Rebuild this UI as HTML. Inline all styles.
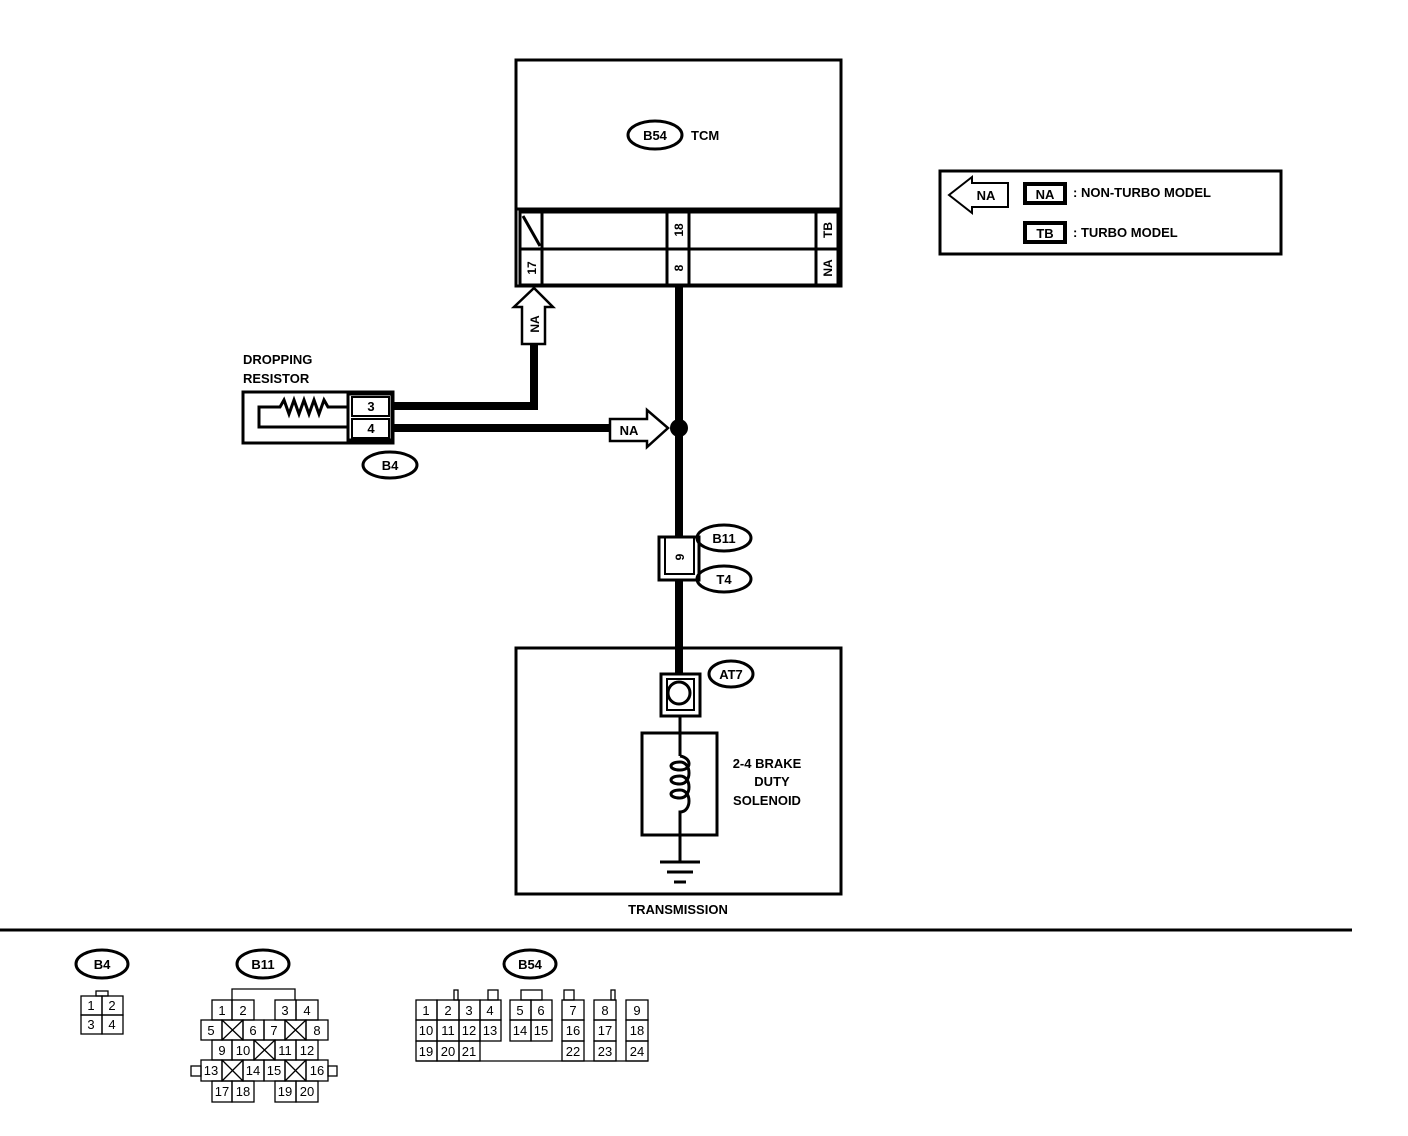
<!DOCTYPE html>
<html><head><meta charset="utf-8"><style>
html,body{margin:0;padding:0;background:#fff;}
svg{display:block;}
text{font-family:"Liberation Sans",Arial,sans-serif;font-weight:bold;fill:#000;}
text.n{font-weight:normal;}
</style></head><body>
<svg width="1408" height="1136" viewBox="0 0 1408 1136" xmlns="http://www.w3.org/2000/svg">
<g fill="none" stroke="#000">
<rect x="516" y="60" width="325" height="226" stroke-width="3"/>
<line x1="516" y1="209" x2="841" y2="209" stroke-width="3"/>
<rect x="520" y="212" width="318" height="73" stroke-width="3"/>
<line x1="520" y1="249" x2="838" y2="249" stroke-width="3"/>
<line x1="542" y1="212" x2="542" y2="285" stroke-width="3"/>
<line x1="667" y1="212" x2="667" y2="285" stroke-width="3"/>
<line x1="689" y1="212" x2="689" y2="285" stroke-width="3"/>
<line x1="816" y1="212" x2="816" y2="285" stroke-width="3"/>
<line x1="523" y1="216" x2="540" y2="246" stroke-width="3"/>
<ellipse cx="655" cy="135" rx="27" ry="14" stroke-width="3"/>
<polyline points="392,406 534,406 534,344" stroke-width="8"/>
<line x1="392" y1="428" x2="612" y2="428" stroke-width="8"/>
<line x1="679" y1="287" x2="679" y2="673" stroke-width="8"/>
<polygon points="522,344 545,344 545,307 553,307 534,288 514,307 522,307" fill="#fff" stroke-width="2.5"/>
<polygon points="610,419 647,419 647,410 668,428 647,447 647,441 610,441" fill="#fff" stroke-width="2.5"/>
<rect x="243" y="392" width="150" height="51" stroke-width="3"/>
<rect x="348" y="394" width="44" height="46" stroke-width="3"/>
<rect x="352" y="397" width="37" height="19" stroke-width="2"/>
<rect x="352" y="419" width="37" height="19" stroke-width="2"/>
<polyline points="348,407 328,407 324,400 319,414 314,400 309,414 304,400 299,414 294,400 289,414 284,400 280,407 259,407 259,427 348,427" stroke-width="3"/>
<ellipse cx="390" cy="465" rx="27" ry="13" stroke-width="3"/>
<rect x="659" y="537" width="40" height="43" fill="#fff" stroke-width="3"/>
<rect x="665" y="537" width="29" height="37" stroke-width="2"/>
<ellipse cx="724" cy="538" rx="27" ry="13" stroke-width="3"/>
<ellipse cx="724" cy="579" rx="27" ry="13" stroke-width="3"/>
<rect x="516" y="648" width="325" height="246" stroke-width="3"/>
<rect x="661" y="674" width="39" height="42" fill="#fff" stroke-width="3"/>
<rect x="667" y="679" width="27" height="31" stroke-width="2"/>
<circle cx="679" cy="693" r="11" stroke-width="3"/>
<ellipse cx="731" cy="674" rx="22" ry="13" stroke-width="3"/>
<line x1="680" y1="716" x2="680" y2="756" stroke-width="3"/>
<rect x="642" y="733" width="75" height="102" stroke-width="3"/>
<path d="M680 756 C692 758 692 770 680 770 C668 770 668 762 680 762 C692 762 692 784 680 784 C668 784 668 776 680 776 C692 776 692 798 680 798 C668 798 668 790 680 790 C692 790 692 812 680 812 L680 835 L680 862" stroke-width="3"/>
<line x1="660" y1="862" x2="700" y2="862" stroke-width="3"/>
<line x1="667" y1="872" x2="693" y2="872" stroke-width="3"/>
<line x1="674" y1="882" x2="686" y2="882" stroke-width="3"/>
<line x1="0" y1="930" x2="1352" y2="930" stroke-width="3"/>
<rect x="940" y="171" width="341" height="83" stroke-width="3"/>
<polygon points="1008,183 972,183 972,177 949,195 972,213 972,207 1008,207" stroke-width="2"/>
<rect x="1025" y="184" width="40" height="19" stroke-width="4"/>
<rect x="1025" y="223" width="40" height="19" stroke-width="4"/>
<ellipse cx="102" cy="964" rx="26" ry="14" stroke-width="3"/>
<ellipse cx="263" cy="964" rx="26" ry="14" stroke-width="3"/>
<ellipse cx="530" cy="964" rx="26" ry="14" stroke-width="3"/>
</g>
<circle cx="679" cy="428" r="9" fill="#000"/>
<g font-size="13">
<text x="691" y="140">TCM</text>
<text x="655" y="140" text-anchor="middle">B54</text>
<text x="243" y="364">DROPPING</text>
<text x="243" y="383">RESISTOR</text>
<text x="371" y="411" text-anchor="middle">3</text>
<text x="371" y="433" text-anchor="middle">4</text>
<text x="390" y="470" text-anchor="middle">B4</text>
<text x="629" y="435" text-anchor="middle">NA</text>
<text x="724" y="543" text-anchor="middle">B11</text>
<text x="724" y="584" text-anchor="middle">T4</text>
<text x="731" y="679" text-anchor="middle">AT7</text>
<text x="767" y="768" text-anchor="middle">2-4 BRAKE</text>
<text x="772" y="786" text-anchor="middle">DUTY</text>
<text x="767" y="805" text-anchor="middle">SOLENOID</text>
<text x="678" y="914" text-anchor="middle">TRANSMISSION</text>
<text x="986" y="200" text-anchor="middle">NA</text>
<text x="1045" y="199" text-anchor="middle">NA</text>
<text x="1045" y="238" text-anchor="middle">TB</text>
<text x="1073" y="197">: NON-TURBO MODEL</text>
<text x="1073" y="237">: TURBO MODEL</text>
<text x="102" y="969" text-anchor="middle">B4</text>
<text x="263" y="969" text-anchor="middle">B11</text>
<text x="530" y="969" text-anchor="middle">B54</text>
</g>
<g font-size="12">
<text transform="translate(536,268) rotate(-90)" text-anchor="middle">17</text>
<text transform="translate(683,230) rotate(-90)" text-anchor="middle">18</text>
<text transform="translate(683,268) rotate(-90)" text-anchor="middle">8</text>
<text transform="translate(832,230) rotate(-90)" text-anchor="middle">TB</text>
<text transform="translate(832,268) rotate(-90)" text-anchor="middle">NA</text>
<text transform="translate(539,324) rotate(-90)" text-anchor="middle">NA</text>
<text transform="translate(684,557) rotate(-90)" text-anchor="middle">9</text>
</g>
<g fill="none" stroke="#000" stroke-width="1.3">
<rect x="96" y="991" width="12" height="5"/>
<rect x="81" y="996" width="21" height="19"/><rect x="102" y="996" width="21" height="19"/>
<rect x="81" y="1015" width="21" height="19"/><rect x="102" y="1015" width="21" height="19"/>
<polyline points="232,1000 232,989 295,989 295,1000"/>
<rect x="212" y="1000" width="20" height="20"/><rect x="232" y="1000" width="22" height="20"/>
<rect x="275" y="1000" width="21" height="20"/><rect x="296" y="1000" width="22" height="20"/>
<rect x="201" y="1020" width="21" height="20"/><rect x="222" y="1020" width="21" height="20"/><rect x="243" y="1020" width="21" height="20"/>
<rect x="264" y="1020" width="21" height="20"/><rect x="285" y="1020" width="21" height="20"/><rect x="306" y="1020" width="22" height="20"/>
<path d="M222 1020 L243 1040 M243 1020 L222 1040 M285 1020 L306 1040 M306 1020 L285 1040"/>
<rect x="212" y="1040" width="20" height="20"/><rect x="232" y="1040" width="22" height="20"/><rect x="254" y="1040" width="21" height="20"/>
<rect x="275" y="1040" width="21" height="20"/><rect x="296" y="1040" width="22" height="20"/>
<path d="M254 1040 L275 1060 M275 1040 L254 1060"/>
<rect x="201" y="1060" width="21" height="21"/><rect x="222" y="1060" width="21" height="21"/><rect x="243" y="1060" width="21" height="21"/>
<rect x="264" y="1060" width="21" height="21"/><rect x="285" y="1060" width="21" height="21"/><rect x="306" y="1060" width="22" height="21"/>
<path d="M222 1060 L243 1081 M243 1060 L222 1081 M285 1060 L306 1081 M306 1060 L285 1081"/>
<rect x="191" y="1066" width="10" height="10"/><rect x="328" y="1066" width="9" height="10"/>
<rect x="212" y="1081" width="20" height="21"/><rect x="232" y="1081" width="22" height="21"/>
<rect x="275" y="1081" width="21" height="21"/><rect x="296" y="1081" width="22" height="21"/>
<line x1="416" y1="1061" x2="648" y2="1061"/>
<rect x="454" y="990" width="4" height="10"/><rect x="488" y="990" width="10" height="10"/>
<rect x="521" y="990" width="21" height="10"/><rect x="564" y="990" width="10" height="10"/><rect x="611" y="990" width="4" height="10"/>
<rect x="416" y="1000" width="21" height="20"/><rect x="437" y="1000" width="22" height="20"/><rect x="459" y="1000" width="21" height="20"/><rect x="480" y="1000" width="21" height="20"/>
<rect x="416" y="1020" width="21" height="21"/><rect x="437" y="1020" width="22" height="21"/><rect x="459" y="1020" width="21" height="21"/><rect x="480" y="1020" width="21" height="21"/>
<rect x="416" y="1041" width="21" height="20"/><rect x="437" y="1041" width="22" height="20"/><rect x="459" y="1041" width="21" height="20"/>
<rect x="510" y="1000" width="21" height="20"/><rect x="531" y="1000" width="21" height="20"/>
<rect x="510" y="1020" width="21" height="21"/><rect x="531" y="1020" width="21" height="21"/>
<rect x="562" y="1000" width="22" height="20"/><rect x="562" y="1020" width="22" height="21"/><rect x="562" y="1041" width="22" height="20"/>
<rect x="594" y="1000" width="22" height="20"/><rect x="594" y="1020" width="22" height="21"/><rect x="594" y="1041" width="22" height="20"/>
<rect x="626" y="1000" width="22" height="20"/><rect x="626" y="1020" width="22" height="21"/><rect x="626" y="1041" width="22" height="20"/>
</g>
<g font-size="13" text-anchor="middle">
<text class="n" x="91" y="1010">1</text><text class="n" x="112" y="1010">2</text><text class="n" x="91" y="1029">3</text><text class="n" x="112" y="1029">4</text>
<text class="n" x="222" y="1015">1</text><text class="n" x="243" y="1015">2</text><text class="n" x="285" y="1015">3</text><text class="n" x="307" y="1015">4</text>
<text class="n" x="211" y="1035">5</text><text class="n" x="253" y="1035">6</text><text class="n" x="274" y="1035">7</text><text class="n" x="317" y="1035">8</text>
<text class="n" x="222" y="1055">9</text><text class="n" x="243" y="1055">10</text><text class="n" x="285" y="1055">11</text><text class="n" x="307" y="1055">12</text>
<text class="n" x="211" y="1075">13</text><text class="n" x="253" y="1075">14</text><text class="n" x="274" y="1075">15</text><text class="n" x="317" y="1075">16</text>
<text class="n" x="222" y="1096">17</text><text class="n" x="243" y="1096">18</text><text class="n" x="285" y="1096">19</text><text class="n" x="307" y="1096">20</text>
<text class="n" x="426" y="1015">1</text><text class="n" x="448" y="1015">2</text><text class="n" x="469" y="1015">3</text><text class="n" x="490" y="1015">4</text>
<text class="n" x="520" y="1015">5</text><text class="n" x="541" y="1015">6</text><text class="n" x="573" y="1015">7</text><text class="n" x="605" y="1015">8</text><text class="n" x="637" y="1015">9</text>
<text class="n" x="426" y="1035">10</text><text class="n" x="448" y="1035">11</text><text class="n" x="469" y="1035">12</text><text class="n" x="490" y="1035">13</text>
<text class="n" x="520" y="1035">14</text><text class="n" x="541" y="1035">15</text><text class="n" x="573" y="1035">16</text><text class="n" x="605" y="1035">17</text><text class="n" x="637" y="1035">18</text>
<text class="n" x="426" y="1056">19</text><text class="n" x="448" y="1056">20</text><text class="n" x="469" y="1056">21</text>
<text class="n" x="573" y="1056">22</text><text class="n" x="605" y="1056">23</text><text class="n" x="637" y="1056">24</text>
</g>
</svg>
</body></html>
